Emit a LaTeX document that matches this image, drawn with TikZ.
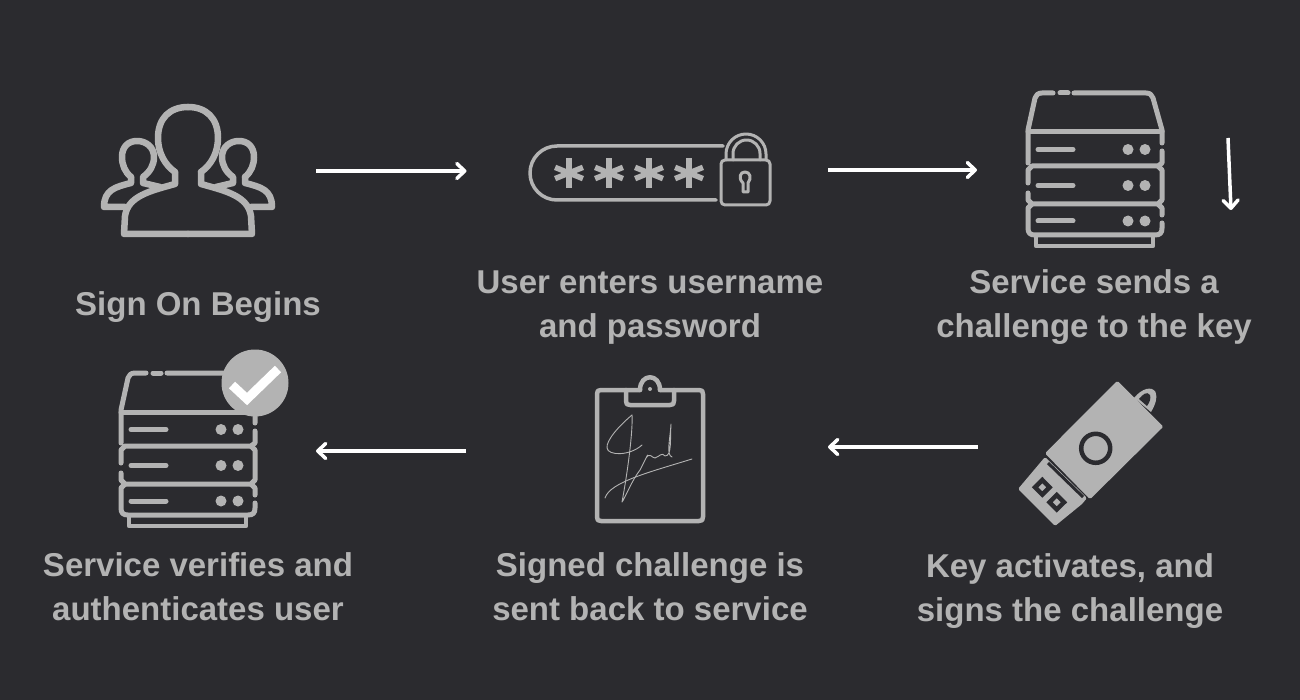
\documentclass[tikz,border=0pt]{standalone}
\usepackage{fontspec}
\setmainfont{Liberation Sans}
\usepackage{xcolor}
\usetikzlibrary{arrows.meta, positioning}
\definecolor{bgdark}{HTML}{2B2B2F}
\definecolor{icongray}{HTML}{B3B3B3}

\tikzset{
    pics/server/.style={code={
        % roof
        \draw[srv] (1053,93) -- (1042,93) .. controls (1038,93) and (1036,95) .. (1035,98) -- (1028,130) -- (1028,163);
        \draw[srv] (1060,93) -- (1068,93);
        \draw[srv] (1074,93) -- (1146,93) .. controls (1150,93) and (1152,95) .. (1153,98) -- (1162,130) -- (1162,143);
        % shelves and sides
        \draw[srv] (1028,132) -- (1162,132);
        \draw[srv] (1162,151) -- (1162,163) -- (1158,166) -- (1032,166) -- (1028,170) -- (1028,183);
        \draw[srv] (1158,166) -- (1162,170) -- (1162,200) -- (1158,204) -- (1032,204) -- (1028,200) -- (1028,193);
        \draw[srv] (1032,204) -- (1028,208) -- (1028,228) .. controls (1028,233) and (1030,235) .. (1035,235) -- (1155,235) .. controls (1160,235) and (1162,233) .. (1162,228) -- (1162,223);
        \draw[srv] (1158,204) -- (1162,208) -- (1162,215);
        % foot
        \draw[srv, line width=4.5pt] (1036,236) -- (1036,246) -- (1153,246) -- (1153,236);
        % slots and lamps
        \foreach \rowy in {149.5,185.5,221} {
            \draw[srv] (1038,\rowy) -- (1073,\rowy);
            \fill[icongray] (1128,\rowy) circle (5.5) (1145,\rowy) circle (5.5);
        }
    }}
}

\begin{document}
\begin{tikzpicture}[
    x=1pt, y=-1pt,
    every node/.style={font=\fontsize{33}{44}\selectfont\bfseries},
    caption/.style={text=icongray, align=center, inner sep=0pt},
    iconbox/.style={minimum width=#1, inner sep=0pt, outer sep=0pt},
    srv/.style={draw=icongray, line width=5pt, line cap=round, line join=round},
    stroke/.style={draw=icongray, line width=#1, line cap=round, line join=round},
    flow/.style={-{Straight Barb[length=8pt, width=15pt, round]}, white, line width=3.5pt}
]

\fill[bgdark] (0,0) rectangle (1300,700);

% Invisible boxes that hold the icons
\node[iconbox=174pt] (users) at (188,171) {};
\node[iconbox=243pt] (password) at (650,170) {};
\node[iconbox=137pt] (server) at (1094,169.5) {};
\node[iconbox=147pt] (key) at (1091,447) {};
\node[iconbox=109pt] (clipboard) at (650,451) {};
\node[iconbox=137pt] (verified) at (188,451) {};
\coordinate (downstart) at (1228,138);
\coordinate (downend) at (1231,210);

% Row 1: people
\foreach \mirrorx/\sidex in {1/0,-1/376} {
    \begin{scope}[xshift=\sidex pt, xscale=\mirrorx]
        \draw[stroke=6.5pt] (175,172) .. controls (165,165) and (158,153) .. (158,138) .. controls (158,118) and (170,107) .. (188,107);
        \draw[stroke=6.5pt] (175,172) -- (175,184) .. controls (150,191) and (128,196) .. (125,216) -- (124,234) -- (188,234);
        \draw[stroke=6.5pt] (131,177) .. controls (125,172) and (122,165) .. (122,157) .. controls (122,147) and (128,141) .. (137,141) .. controls (146,141) and (154,147) .. (154,157) .. controls (154,165) and (150,172) .. (143,177) -- (143,183) -- (160,187);
        \draw[stroke=6.5pt] (131,177) -- (131,183) .. controls (115,187) and (104,190) .. (104,207) -- (125,207);
    \end{scope}
}

% Row 1: password field and padlock
\draw[stroke=3.5pt] (723,146) -- (557,146) arc[start angle=270, end angle=90, radius=27] -- (716,200);
\foreach \starx in {569,609,649,689} {
    \foreach \spoke in {22,90,158} {
        \draw[icongray, line width=5.5pt] (\starx,173) ++(\spoke:15) -- ++(\spoke+180:30);
    }
}
\draw[stroke=3pt, rounded corners=4pt] (721,160) rectangle (770,205);
\draw[stroke=3pt] (726,160) -- (726,154) arc[start angle=180, end angle=360, radius=20] -- (766,160);
\draw[stroke=3pt] (733,160) -- (733,153.5) arc[start angle=180, end angle=360, radius=13.5] -- (760,160);
\draw[stroke=3pt] (743,183) .. controls (738,178) and (740,172) .. (745,172) .. controls (750,172) and (752,178) .. (748,183) -- (748,192) -- (743,192) -- cycle;

% Row 1: server
\pic at (0,0) {server};

% Row 2: server with badge
\pic[xshift=-907pt, yshift=-280pt] at (0,0) {server};
\fill[icongray] (255,383) circle (33.5);
\draw[white, line width=9pt] (232,385) -- (247,399) -- (278,369);

% Row 2: clipboard
\draw[stroke=4.5pt] (640,390) -- (601,390) .. controls (598,390) and (597,391) .. (597,394) -- (597,517) .. controls (597,520) and (598,521) .. (601,521) -- (699,521) .. controls (702,521) and (703,520) .. (703,517) -- (703,394) .. controls (703,391) and (702,390) .. (699,390) -- (660,390);
\draw[stroke=4.5pt] (626,390) -- (626,401) .. controls (626,404) and (627,405) .. (630,405) -- (670,405) .. controls (673,405) and (674,404) .. (674,401) -- (674,390);
\draw[stroke=4.5pt] (640,390) .. controls (640,373) and (660,373) .. (660,390);
\fill[icongray] (650,389) circle (2);
% signature
\draw[stroke=0.9pt] (632,415) .. controls (620,425) and (606,440) .. (607,448) .. controls (608,456) and (630,456) .. (642,445);
\draw[stroke=0.9pt] (632,415) .. controls (633,430) and (628,470) .. (622,502) .. controls (624,500) and (632,480) .. (640,470) .. controls (645,460) and (650,450) .. (646,458) .. controls (650,452) and (652,458) .. (655,458) .. controls (660,456) and (662,452) .. (665,456) .. controls (672,456) and (670,440) .. (671,424) .. controls (670,440) and (666,455) .. (672,457);
\draw[stroke=0.9pt] (605,498) .. controls (610,482) and (650,472) .. (692,459);

% Row 2: security key
\fill[icongray] (1134,398) .. controls (1142,388) and (1152,386) .. (1155.5,392) .. controls (1158,398) and (1155,405) .. (1151,412) -- cycle;
\fill[bgdark] (1139,399) .. controls (1143,394) and (1147,391) .. (1150,395) .. controls (1151,398) and (1150,402) .. (1147,406) -- cycle;
\fill[icongray, rounded corners=1.5pt] (1117.3,380.7) -- (1163.3,426.7) -- (1090,499.3) -- (1045,453.3) -- cycle;
\fill[icongray, rounded corners=1.5pt] (1045,457) -- (1087,498) -- (1082,504) -- (1055,526) -- (1018,489) -- cycle;
\draw[bgdark, line width=3pt] (1048,463) -- (1083,497);
\draw[bgdark, line width=4.5pt] (1095.7,448.3) circle (14.5);
\draw[bgdark, line width=4.5pt] (1042.3,480) -- (1049.5,487.3) -- (1042.3,494.5) -- (1035,487.3) -- cycle;
\draw[bgdark, line width=4.5pt] (1056.7,495) -- (1064,502.3) -- (1056.7,509.5) -- (1049.5,502.3) -- cycle;

% Captions
\node[caption] (begins) at (198,307) {Sign On Begins};
\node[caption] (enters) at (650,308) {User enters username\\and password};
\node[caption] (sends) at (1094,307) {Service sends a\\challenge to the key};
\node[caption] (activates) at (1070,591) {Key activates, and\\signs the challenge};
\node[caption] (signed) at (650,587) {Signed challenge is\\sent back to service};
\node[caption] (authenticates) at (198,587) {Service verifies and\\authenticates user};

% arrows
\draw[flow, shorten <=41pt, shorten >=62pt] (users.east) -- (users.east -| password.west);
\draw[flow, shorten <=56.5pt, shorten >=48.5pt] (password.east) -- (password.east -| server.west);
\draw[flow] (downstart) -- (downend);
\draw[flow, shorten <=40pt, shorten >=123.5pt] (key.west) -- (key.west -| clipboard.east);
\draw[flow, shorten <=129.5pt, shorten >=59.5pt] (clipboard.west) -- (clipboard.west -| verified.east);

\end{tikzpicture}
\end{document}
